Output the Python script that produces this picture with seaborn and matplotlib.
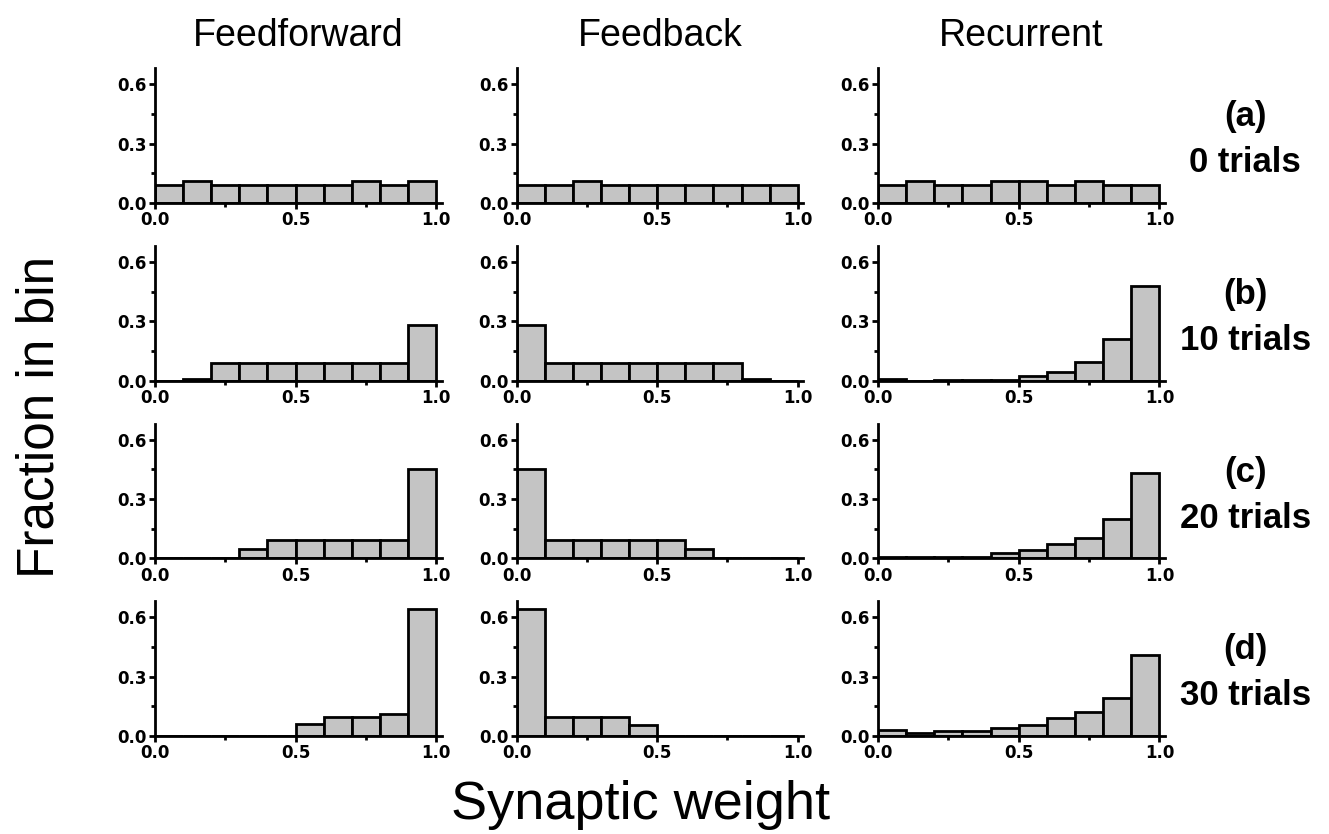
import numpy as np
import pandas as pd
import seaborn as sns
import matplotlib.pyplot as plt
from matplotlib.ticker import MultipleLocator

# bin edges for synaptic weight (10 bins from 0 to 1)
edges = np.linspace(0, 1, 11)
centers = (edges[:-1] + edges[1:]) / 2

columns = ['Feedforward', 'Feedback', 'Recurrent']
row_labels = ['(a)\n0 trials', '(b)\n10 trials', '(c)\n20 trials', '(d)\n30 trials']

# fraction in bin
ff_0 = [0.09, 0.11, 0.09, 0.09, 0.09, 0.09, 0.09, 0.11, 0.09, 0.11]
fb_0 = [0.09, 0.09, 0.11, 0.09, 0.09, 0.09, 0.09, 0.09, 0.09, 0.09]
rc_0 = [0.09, 0.11, 0.09, 0.09, 0.11, 0.11, 0.09, 0.11, 0.09, 0.09]

ff_10 = [0.0, 0.01, 0.09, 0.09, 0.09, 0.09, 0.09, 0.09, 0.09, 0.28]
fb_10 = [0.28, 0.09, 0.09, 0.09, 0.09, 0.09, 0.09, 0.09, 0.01, 0.0]
rc_10 = [0.008, 0.0, 0.005, 0.005, 0.005, 0.025, 0.045, 0.095, 0.21, 0.48]

ff_20 = [0.0, 0.0, 0.0, 0.047, 0.094, 0.094, 0.094, 0.094, 0.094, 0.45]
fb_20 = [0.45, 0.094, 0.094, 0.094, 0.094, 0.094, 0.047, 0.0, 0.0, 0.0]
rc_20 = [0.005, 0.005, 0.005, 0.005, 0.025, 0.04, 0.07, 0.104, 0.2, 0.43]

ff_30 = [0.0, 0.0, 0.0, 0.0, 0.0, 0.06, 0.095, 0.095, 0.11, 0.64]
fb_30 = [0.64, 0.095, 0.095, 0.095, 0.057, 0.0, 0.0, 0.0, 0.0, 0.0]
rc_30 = [0.028, 0.014, 0.026, 0.026, 0.04, 0.058, 0.09, 0.12, 0.19, 0.41]

grid = [[ff_0, fb_0, rc_0],
        [ff_10, fb_10, rc_10],
        [ff_20, fb_20, rc_20],
        [ff_30, fb_30, rc_30]]

sns.set_style('white')
plt.rcParams['font.family'] = ['Liberation Sans', 'DejaVu Sans']
plt.rcParams['text.color'] = 'black'
plt.rcParams['xtick.color'] = 'black'
plt.rcParams['ytick.color'] = 'black'

fig, axes = plt.subplots(4, 3, figsize=(13.29, 8.34), dpi=100)
plt.subplots_adjust(left=0.1166, right=0.8766, top=0.918, bottom=0.1175,
                    wspace=0.26, hspace=0.32)

for i in range(4):
    for j in range(3):
        ax = axes[i, j]
        d = pd.DataFrame({'w': centers, 'frac': grid[i][j]})
        sns.histplot(data=d, x='w', weights='frac', bins=list(edges), ax=ax,
                     color='#c4c4c4', edgecolor='black', linewidth=2,
                     alpha=1)
        ax.set_xlim(0, 1.02)
        ax.set_ylim(0, 0.68)
        ax.set_xticks([0, 0.5, 1.0])
        ax.set_xticklabels(['0.0', '0.5', '1.0'])
        ax.set_yticks([0, 0.3, 0.6])
        ax.set_yticklabels(['0.0', '0.3', '0.6'])
        ax.xaxis.set_minor_locator(MultipleLocator(0.25))
        ax.yaxis.set_minor_locator(MultipleLocator(0.15))
        ax.tick_params(which='major', direction='out', length=4, width=2,
                       labelsize=12, pad=2)
        ax.tick_params(which='minor', direction='out', length=3, width=2)
        ax.tick_params(axis='both', which='both', bottom=True, left=True)
        for lbl in ax.get_xticklabels() + ax.get_yticklabels():
            lbl.set_fontweight('bold')
            lbl.set_family('DejaVu Sans')
        ax.set_xlabel('')
        ax.set_ylabel('')
        sns.despine(ax=ax)
        for s in ['left', 'bottom']:
            ax.spines[s].set_linewidth(2)
            ax.spines[s].set_color('black')
        if i == 0:
            ax.set_title(columns[j], fontsize=27, pad=16)
    axes[i, 2].text(1.28, 0.47, row_labels[i], transform=axes[i, 2].transAxes,
                    ha='center', va='center', fontsize=25, fontweight='bold',
                    linespacing=1.5)

fig.text(0.03, 0.5, 'Fraction in bin', rotation=90, ha='center',
         va='center', fontsize=37)
fig.text(0.482, 0.035, 'Synaptic weight', ha='center', va='center',
         fontsize=39)

plt.savefig('out.png', dpi=100)
